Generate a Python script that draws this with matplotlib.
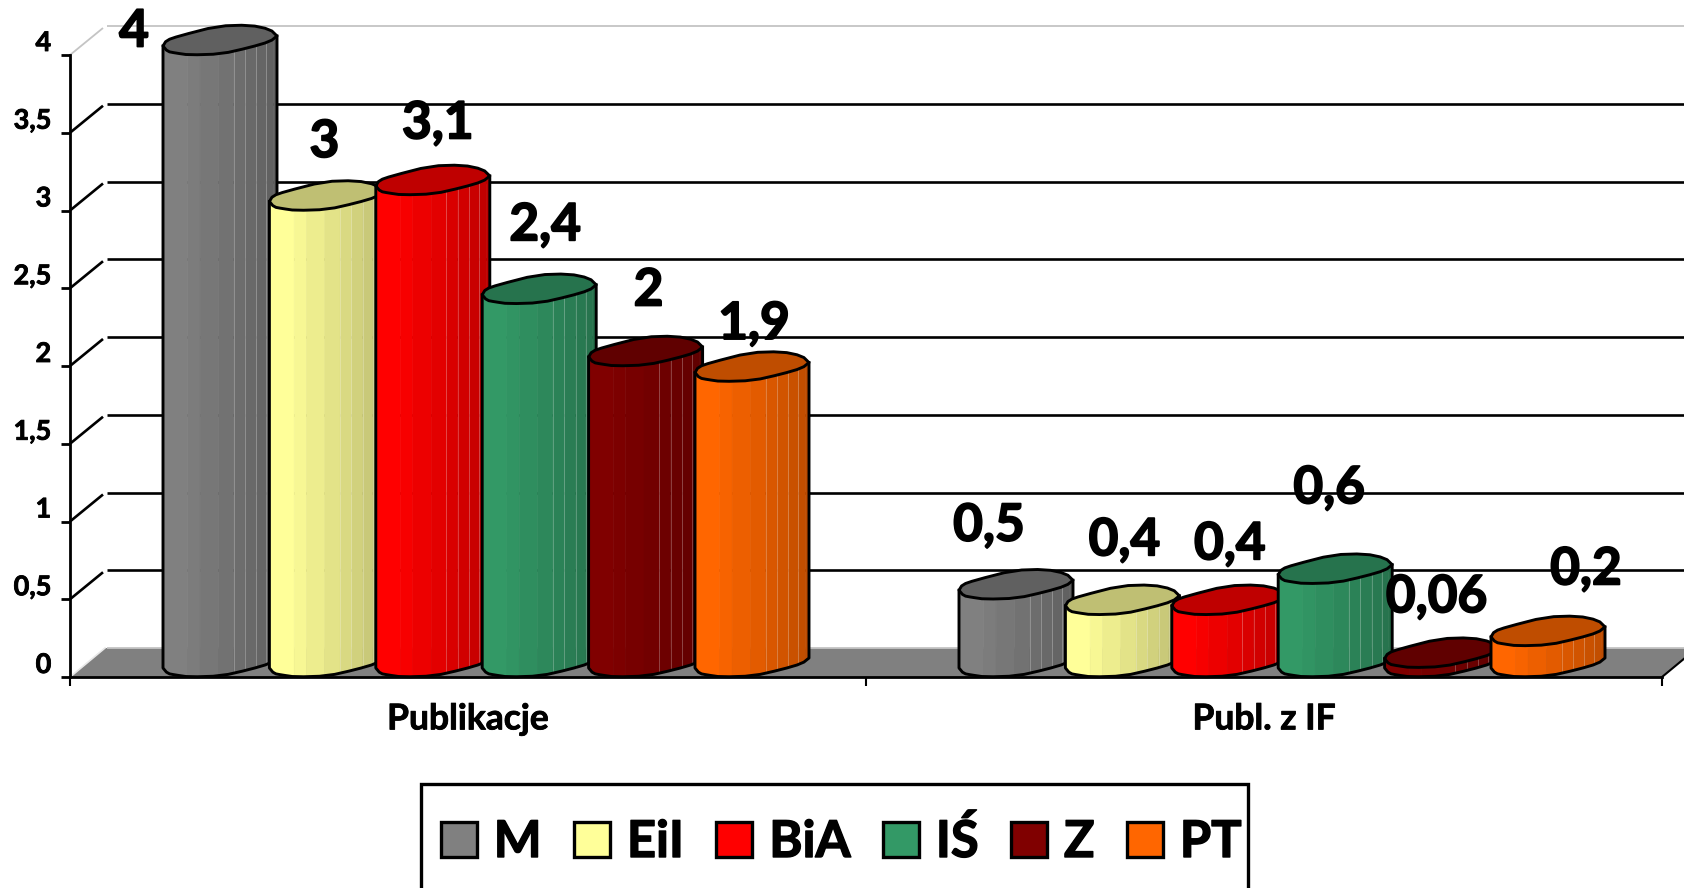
import numpy as np
import matplotlib
matplotlib.use("Agg")
import matplotlib.pyplot as plt
import matplotlib.patheffects as pe
from matplotlib.patches import Polygon, Patch, Rectangle
from matplotlib.colors import to_rgb
from matplotlib.transforms import ScaledTranslation

# ---------- data ----------
categories = ["Publikacje", "Publ. z IF"]
series_names = ["M", "EiI", "BiA", "IŚ", "Z", "PT"]
series_colors = ["#808080", "#FFFF99", "#FF0000", "#339966", "#800000", "#FF6600"]
publikacje = [4, 3, 3.1, 2.4, 2, 1.9]
publ_if = [0.5, 0.4, 0.4, 0.6, 0.06, 0.2]
y_ticks = [0, 0.5, 1, 1.5, 2, 2.5, 3, 3.5, 4]

# ---------- layout / style ----------
W, H = 1684, 888
AX_L, AX_R, AX_T, AX_B = 70, 1662, 55, 677
FONT = "Lato"
DX = 2 / (AX_R - AX_L)     # data per px, x
DY = 4 / (AX_B - AX_T)     # data per px, y
DEPTH_X, DEPTH_Y = 35 * DX, 29 * DY
PITCH, BAR_W, SHIFT = 106.4 * DX, 114 * DX, 18 * DX
ANCHOR = -9                # px: side points of the cap, above the value level

# cap outline in (fraction of width, px below the side point)
FRONT = np.array([(0, 0), (.04, 5.5), (.11, 7), (.23, 9), (.51, 8), (.76, 1.5), (.94, -4.5), (1, -10)])
BACK = np.array([(1, -10), (.94, -16.7), (.76, -21), (.48, -20), (.14, -10), (.03, -5.7), (0, 0)])
STRIP_U = [0, .217, .325, .486, .62, .72, .82, .907, .969, 1]
STRIP_F = [1, .97, .93, .89, .85, .82, .79, .76, .74]
CAP_F = .75
LABEL_OFFSETS = [[(-86, 23), (-2, 68), (5, 71), (6, 78), (3, 75), (2, 57)],
                 [(-27, 73), (2, 74), (1, 70), (-6, 95), (-5, 70), (38, 76)]]
LW = 2.1


def heavy(w):
    return [pe.withStroke(linewidth=w, foreground="black")]


def smooth(p, n=1):
    for _ in range(n):
        q = [p[0]]
        for a, b in zip(p[:-1], p[1:]):
            q += [a * .75 + b * .25, a * .25 + b * .75]
        q.append(p[-1])
        p = np.array(q)
    return p


FRONT_S, BACK_S = smooth(FRONT), smooth(BACK)


def shade(c, f):
    return tuple(v * f for v in to_rgb(c))


def curve(prof, left, level):
    """profile -> data coordinates"""
    x = left + prof[:, 0] * BAR_W
    y = level - (ANCHOR + prof[:, 1]) * DY
    return np.column_stack([x, y])


def draw_bar(ax, left, value, color, z):
    front_bot = curve(FRONT_S, left, 0)
    front_top = curve(FRONT_S, left, value)
    back_top = curve(BACK_S, left, value)
    # strips of the lit body
    for k, f in enumerate(STRIP_F):
        u = np.linspace(STRIP_U[k], STRIP_U[k + 1], 8)
        lo = np.interp(u, FRONT_S[:, 0], front_bot[:, 1])
        hi = np.interp(u, FRONT_S[:, 0], front_top[:, 1])
        xs = left + u * BAR_W
        pts = np.column_stack([np.r_[xs, xs[::-1]], np.r_[lo, hi[::-1]]])
        ax.add_patch(Polygon(pts, closed=True, fc=shade(color, f), ec=shade(color, f), lw=.4,
                             zorder=z, clip_on=False))
        if 4 <= k < 8:
            ax.plot([xs[0], xs[0]], [lo[0], hi[0]], color="white", alpha=.25, lw=.7, zorder=z + .1,
                    clip_on=False)
    # body outline
    outline = np.vstack([front_top[:1], front_bot, front_top[-1:]])
    ax.plot(outline[:, 0], outline[:, 1], color="black", lw=LW, zorder=z + .2,
            solid_joinstyle="round", clip_on=False)
    # cap
    cap = np.vstack([front_top, back_top[1:]])
    ax.add_patch(Polygon(cap, closed=True, fc=shade(color, CAP_F), ec="black", lw=LW,
                         joinstyle="round", zorder=z + .3, clip_on=False))


plt.rcParams["font.family"] = [FONT, "DejaVu Sans"]
plt.rcParams["font.weight"] = "bold"
fig = plt.figure(figsize=(W / 100, H / 100), dpi=100, facecolor="white")
ax = fig.add_axes([AX_L / W, 1 - AX_B / H, (AX_R - AX_L) / W, (AX_B - AX_T) / H])
ax.set_xlim(0, 2)
ax.set_ylim(0, 4)
ax.patch.set_visible(False)
for s in ("top", "right"):
    ax.spines[s].set_visible(False)
for s in ("left", "bottom"):
    ax.spines[s].set_linewidth(2.0)
    ax.spines[s].set_zorder(2.5)

# floor
ax.add_patch(Polygon([(0, 0), (DEPTH_X, DEPTH_Y), (2 + DEPTH_X, DEPTH_Y), (2, 0)], closed=True,
                     fc="#808080", ec="none", zorder=1, clip_on=False))
ax.plot([0.003, DEPTH_X], [0.012, DEPTH_Y], color="#E8E8E8", lw=1.2, zorder=1.2, clip_on=False)
ax.plot([2, 2 + DEPTH_X], [0, DEPTH_Y], color="black", lw=1.5, zorder=1.2, clip_on=False)

# walls' grid
GAP = 2 * DX
for v in y_ticks:
    edge = v in (y_ticks[0], y_ticks[-1])
    col, lw = ("#C4C4C4", 1.3) if edge else ("black", 1.9)
    ax.plot([DEPTH_X + GAP, 2 + DEPTH_X], [v + DEPTH_Y] * 2, color=col, lw=lw, zorder=1.5,
            clip_on=False, solid_capstyle="butt")
    if v != y_ticks[0]:
        ax.plot([0, DEPTH_X - GAP], [v, v + DEPTH_Y - GAP / DX * DY], color=col, lw=lw, zorder=1.5,
                clip_on=False, solid_capstyle="butt")

# bars
z = 3
for g, values in enumerate([publikacje, publ_if]):
    for i, (val, col) in enumerate(zip(values, series_colors)):
        left = g + .5 + SHIFT + (i - 2.5) * PITCH - BAR_W / 2
        draw_bar(ax, left, val, col, z)
        z += 1
        ax.annotate(str(val).replace(".", ","), xy=(left + BAR_W / 2, val),
                    xytext=LABEL_OFFSETS[g][i], textcoords="offset pixels",
                    ha="center", va="center", fontsize=37, fontweight="bold",
                    color="black", zorder=40, annotation_clip=False,
                    path_effects=heavy(1.3))

# axes ticks
ax.set_yticks(y_ticks)
ax.set_yticklabels([str(v).replace(".", ",") for v in y_ticks], fontsize=19.5, fontweight="bold")
ax.tick_params(axis="y", length=6.5, width=2, pad=7)
up = ScaledTranslation(0, 14 / 72 * .72, fig.dpi_scale_trans)
for lab in ax.get_yticklabels():
    lab.set_transform(lab.get_transform() + up)
    lab.set_path_effects(heavy(.6))
ax.set_xticks([.5, 1.5])
ax.set_xticklabels(categories, fontsize=25.5, fontweight="bold")
for lab in ax.get_xticklabels():
    lab.set_path_effects(heavy(.6))
ax.set_xticks([0, 1, 2], minor=True)
ax.tick_params(axis="x", which="major", length=0, pad=19)
ax.tick_params(axis="x", which="minor", length=6.5, width=1.5)

# legend
fig.add_artist(Rectangle((421 / W, -0.02), (1248 - 421) / W, 1.02 - 784 / H, transform=fig.transFigure,
                         fc="white", ec="black", lw=2.4))
handles = [Patch(fc=c, ec="black", lw=2.4) for c in series_colors]
leg = fig.legend(handles, series_names, loc="upper left", bbox_to_anchor=(441 / W, 1 - 817 / H),
                 ncol=6, frameon=False, handlelength=.71, handleheight=.69,
                 handletextpad=.33, columnspacing=.64, borderpad=0, borderaxespad=0,
                 prop={"family": FONT, "weight": "bold", "size": 36.5})
for t in leg.get_texts():
    t.set_path_effects(heavy(1.0))

fig.savefig("out.png", dpi=100)
